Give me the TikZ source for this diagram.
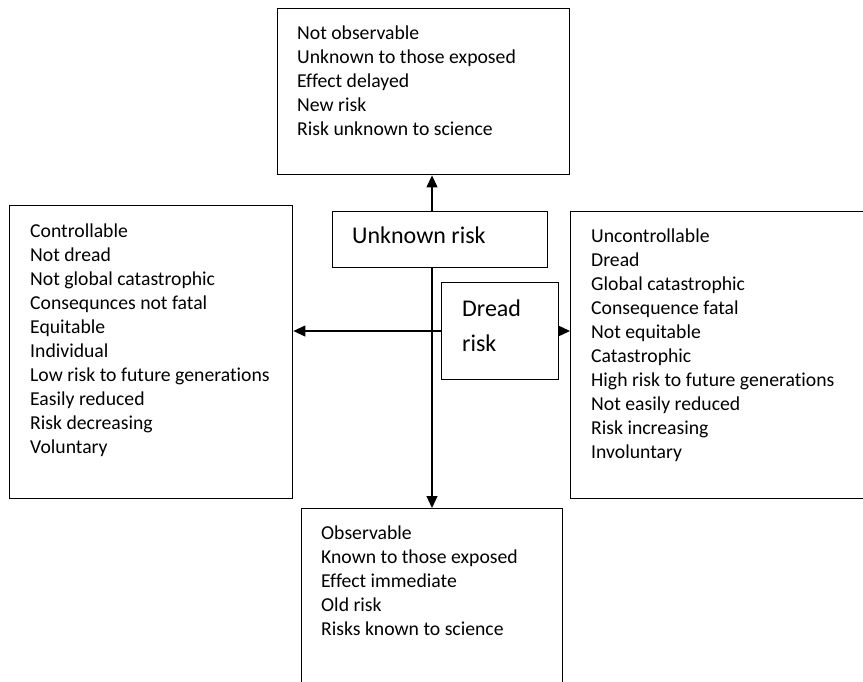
\documentclass[tikz,border=0pt]{standalone}
\usepackage{fontspec}
\setmainfont{Carlito}[Ligatures=NoCommon]
\usetikzlibrary{arrows.meta}
\pgfdeclarelayer{bg}
\pgfsetlayers{bg,main}
\begin{document}
\begin{tikzpicture}[x=1pt,y=-1pt,
  riskbox/.style={draw, line width=1.4pt, fill=white, inner sep=0pt, anchor=north west},
  listtext/.style={anchor=north west, inner sep=0pt, align=left, font=\fontsize{19.7}{24}\selectfont},
  lbltext/.style={anchor=north west, inner sep=0pt, align=left, font=\fontsize{24}{35}\selectfont},
  conn/.style={line width=1.3pt, {Triangle[length=12pt,width=11pt]}-{Triangle[length=12pt,width=11pt]}}]
\clip (0,0) rectangle (863,681);
% boxes
\node[riskbox, minimum width=292pt, minimum height=166pt] (top) at (277,8) {};
\node[riskbox, minimum width=283pt, minimum height=293pt] (left) at (9,205) {};
\node[riskbox, minimum width=300pt, minimum height=287pt] (right) at (570,211) {};
\node[riskbox, minimum width=261pt, minimum height=185pt] (bot) at (301,508) {};
\node[riskbox, minimum width=215pt, minimum height=56pt] (unk) at (332,211) {};
\node[riskbox, minimum width=117pt, minimum height=97pt] (dread) at (441,282) {};
% texts
\node[listtext] (toptext) at (297,22) {\strut Not observable\\Unknown to those exposed\\Effect delayed\\New risk\\Risk unknown to science};
\node[listtext] (lefttext) at (30,220) {\strut Controllable\\Not dread\\Not global catastrophic\\Consequnces not fatal\\Equitable\\Individual\\Low risk to future generations\\Easily reduced\\Risk decreasing\\Voluntary};
\node[listtext] (righttext) at (591,225) {\strut Uncontrollable\\Dread\\Global catastrophic\\Consequence fatal\\Not equitable\\Catastrophic\\High risk to future generations\\Not easily reduced\\Risk increasing\\Involuntary};
\node[listtext] (bottext) at (321,522) {\strut Observable\\Known to those exposed\\Effect immediate\\Old risk\\Risks known to science};
\node[lbltext] (unktext) at (352,218.5) {\strut Unknown risk};
\node[lbltext] (dreadtext) at (462,291.5) {\strut Dread\\risk};
% connectors
\coordinate (vx) at (432,0);
\coordinate (hy) at (0,331);
\begin{pgfonlayer}{bg}
\fill[white] (0,0) rectangle (863,681);
\draw[conn] (top.south -| vx) -- (bot.north -| vx);
\draw[conn] (left.east |- hy) -- (right.west |- hy);
\end{pgfonlayer}
\end{tikzpicture}
\end{document}
